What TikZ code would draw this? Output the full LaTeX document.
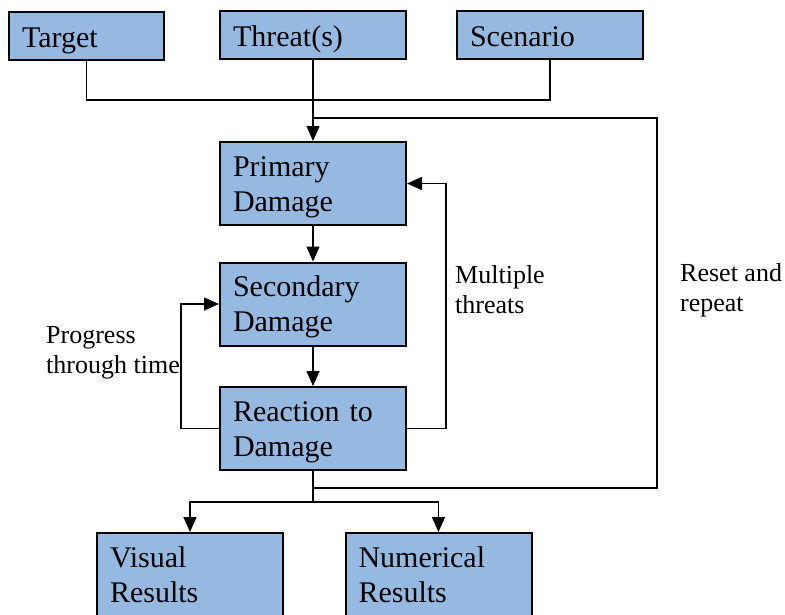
\documentclass[tikz,border=0pt]{standalone}
\usepackage{fontspec}
\setmainfont{Liberation Serif}
\usetikzlibrary{positioning,arrows.meta,calc}

\definecolor{boxblue}{RGB}{149,185,225}

\begin{document}
\begin{tikzpicture}[
  x=1pt, y=-1pt,
  >={Triangle[width=13pt,length=15pt]},
  box/.style={draw, line width=2pt, fill=boxblue, inner xsep=13pt, inner ysep=0pt,
              align=left, text width=160pt, minimum width=186pt,
              font=\fontsize{30}{35}\selectfont},
  inbox/.style={box, minimum height=48pt, text height=30pt, text depth=7pt},
  stepbox/.style={box, minimum height=83pt, text height=20pt, text depth=35pt},
  note/.style={align=left, inner sep=0pt, font=\fontsize{26}{30}\selectfont},
  rel/.style={->, line width=1.6pt},
  line/.style={line width=1.6pt}
]
\useasboundingbox (0,0) rectangle (785,614);

% Inputs (top row)
\node[inbox, text width=129pt, minimum width=155pt] (tgt) at (86.5,35.5) {Target};
\node[inbox] (thr) at (313,35) {Threat(s)};
\node[inbox] (scn) at (550,35) {Scenario};

% Damage chain (centre column)
\node[stepbox] (prim) at (313,183.5) {Primary\\Damage};
\node[stepbox] (sec) at (313,304) {Secondary\\Damage};
\node[stepbox] (react) at (313,428.5) {Reaction to\\Damage};

% Outputs (bottom row)
\node[stepbox] (vis) at (190,574.5) {Visual\\Results};
\node[stepbox] (num) at (438.5,574.5) {Numerical\\Results};

% Helper points
\coordinate (join) at (313,100);
\coordinate (rst) at (657,118);
\coordinate (rstb) at (657,488);
\coordinate (split) at (313,502);

% Inputs -> Primary Damage
\draw[line] (tgt.south) |- (join) -| (scn.south);
\draw[rel] (thr.south) -- (prim.north);

% Chain
\draw[rel] (prim) -- (sec);
\draw[rel] (sec) -- (react);

% Loops
\draw[rel] (react.east) -- ++(39,0) |- (prim.east);
\draw[rel] (react.west) -- ++(-38,0) |- (sec.west);
\draw[line] (react.south |- rstb) -- (rstb) -- (rst) -- (prim.north |- rst);

% Results
\draw[line] (react.south) -- (split);
\draw[rel] (split) -| (vis.north);
\draw[rel] (split) -| (num.north);

% Loop labels
\node[note, anchor=west] (mtl) at (455,290) {Multiple\\threats};
\node[note, anchor=west] (rsl) at (680,290) {Reset and\\repeat};
\node[note, anchor=west] (ptl) at (46,353) {Progress\\through time};

\end{tikzpicture}
\end{document}
